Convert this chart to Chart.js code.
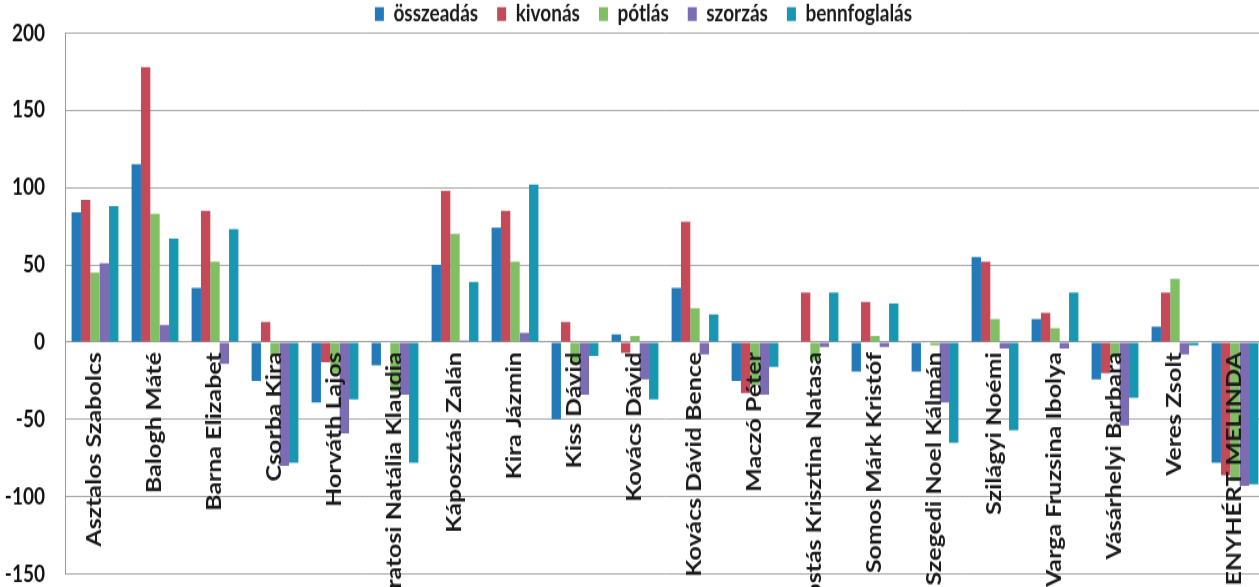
<!DOCTYPE html>
<html>
<head>
<meta charset="utf-8">
<script src="https://cdn.jsdelivr.net/npm/chart.js@4.4.1/dist/chart.umd.min.js"></script>
<style>
  html, body { margin: 0; padding: 0; background: #ffffff; overflow: hidden; width: 1259px; height: 587px; }
  #wrap { width: 1266px; height: 470px; transform-origin: 0 0; transform: scaleY(1.24894); }
</style>
</head>
<body>
<div id="wrap"><canvas id="c" width="1266" height="470"></canvas></div>
<script>
const categories = [
  "Asztalos Szabolcs", "Balogh Máté", "Barna Elizabet", "Csorba Kira", "Horváth Lajos",
  "Iratosi Natália Klaudia", "Káposztás Zalán", "Kira Jázmin", "Kiss Dávid", "Kovács Dávid",
  "Kovács Dávid Bence", "Maczó Péter", "Rostás Krisztina Natasa", "Somos Márk Kristóf",
  "Szegedi Noel Kálmán", "Szilágyi Noémi", "Varga Fruzsina Ibolya", "Vásárhelyi Barbara",
  "Veres Zsolt", "MENYHÉRT MELINDA"
];
const seriesNames = ["összeadás", "kivonás", "pótlás", "szorzás", "bennfoglalás"];
const osszeadas    = [84, 115, 35, -25, -39, -15, 50, 74, -50, 5, 35, -25, 0, -19, -19, 55, 15, -24, 10, -78];
const kivonas      = [92, 178, 85, 13, -13, 0, 98, 85, 13, -7, 78, -33, 32, 26, 0, 52, 19, -20, 32, -86];
const potlas       = [45, 83, 52, -9, -20, -32, 70, 52, -14, 4, 22, -28, -12, 4, -2, 15, 9, -10, 41, -90];
const szorzas      = [51, 11, -14, -80, -59, -34, 1, 6, -34, -24, -8, -34, -3, -3, -39, -4, -4, -54, -8, -93];
const bennfoglalas = [88, 67, 73, -78, -37, -78, 39, 102, -9, -37, 18, -16, 32, 25, -65, -57, 32, -36, -2, -92];
const yTicks = [-150, -100, -50, 0, 50, 100, 150, 200];

const colors = ["#2479b9", "#c44a5a", "#80bf64", "#7b6cb4", "#1797b1"];
const values = [osszeadas, kivonas, potlas, szorzas, bennfoglalas];

const datasets = seriesNames.map((name, i) => ({
  label: name,
  data: values[i],
  backgroundColor: colors[i],
  borderWidth: 0,
  barPercentage: 1.0,
  categoryPercentage: 0.78
}));

const FONT = "Lato, 'Open Sans', 'DejaVu Sans', sans-serif";

// let the y tick labels extend left of the axis box (no clipping)
const unclipY = {
  id: "unclipY",
  afterLayout(chart) { chart.scales.y.left = 0; }
};

new Chart(document.getElementById("c"), {
  type: "bar",
  data: { labels: categories, datasets: datasets },
  plugins: [unclipY],
  options: {
    responsive: false,
    animation: false,
    devicePixelRatio: 1,
    layout: { padding: { top: -17.3, bottom: 10.4, left: 22, right: 1 } },
    plugins: {
      title: { display: false },
      tooltip: { enabled: false },
      legend: {
        display: true,
        position: "top",
        maxHeight: 43.7,
        labels: {
          boxWidth: 9,
          boxHeight: 11,
          padding: 19,
          color: "#1a1a1a",
          font: { family: FONT, size: 19, weight: "bold" }
        }
      }
    },
    scales: {
      x: {
        type: "category",
        position: { y: 0 },
        afterFit: (s) => { s.height = 0; s.paddingLeft = 0; s.paddingRight = 0; },
        grid: { display: false, drawTicks: false },
        border: { display: true, color: "#9a9a9a", width: 1 },
        ticks: {
          z: 1,
          autoSkip: false,
          minRotation: 90,
          maxRotation: 90,
          padding: 8,
          color: "#1a1a1a",
          font: { family: FONT, size: 20, weight: "bold" }
        }
      },
      y: {
        min: -150,
        max: 200,
        afterFit: (s) => { s.width = 43; s.paddingTop = 0; s.paddingBottom = 0; },
        afterBuildTicks: (s) => { s.ticks = yTicks.map(v => ({ value: v })); },
        grid: { color: "#a8a8a8", lineWidth: 1, drawTicks: false },
        border: { display: true, color: "#9a9a9a", width: 1 },
        ticks: {
          stepSize: 50,
          padding: 20,
          color: "#111111",
          font: { family: FONT, size: 19, weight: "bold" }
        }
      }
    }
  }
});
</script>
</body>
</html>
